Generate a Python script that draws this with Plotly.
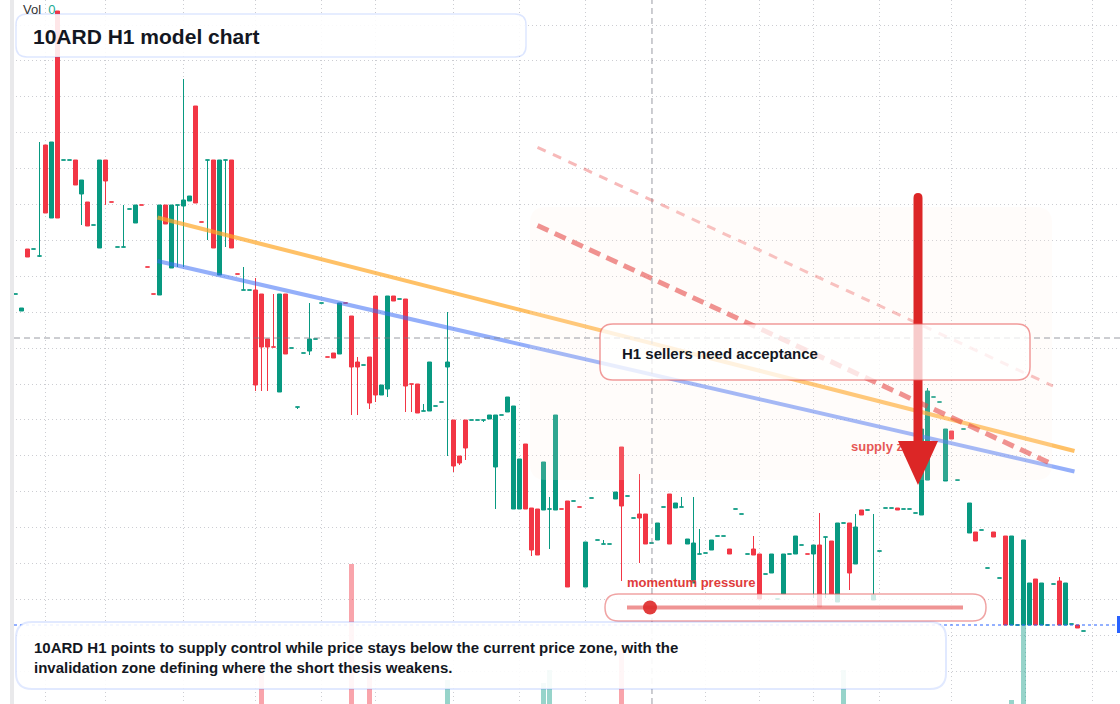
import plotly.graph_objects as go

# ---------------- data ----------------
opens = [41.0, 39.3, 45.5, 45.5, 44.8, 55.9, 48.6, 69.3, 54.4, 54.4,
         54.4, 51.0, 50.2, 47.9, 45.6, 54.4, 50.2, 45.7, 45.7, 49.5,
         48.1, 49.9, 43.7, 41.0, 40.9, 49.9, 43.6, 49.9, 49.8, 50.3,
         59.8, 48.2, 54.4, 54.4, 42.9, 54.4, 54.4, 43.0, 41.4, 41.4,
         41.4, 41.0, 36.5, 35.7, 31.2, 41.0, 35.6, 29.7, 35.1, 35.3,
         36.5, 40.1, 34.7, 35.1, 35.0, 40.1, 38.8, 34.2, 33.9, 34.7,
         40.8, 30.9, 31.5, 40.8, 40.5, 40.5, 32.0, 32.0, 29.3, 29.3,
         29.8, 30.2, 33.7, 28.4, 24.8, 28.4, 28.4, 28.4, 28.4, 28.5,
         23.7, 28.9, 29.2, 19.5, 19.5, 26.0, 19.6, 19.5, 19.4, 19.5,
         19.4, 19.5, 20.3, 20.3, 19.7, 11.7, 20.6, 16.4, 16.0, 16.0,
         20.5, 25.7, 20.8, 18.6, 19.0, 19.0, 16.1, 16.4, 19.7, 21.0,
         19.6, 19.7, 16.0, 12.1, 15.0, 15.1, 15.4, 16.8, 16.8, 15.5,
         19.5, 19.0, 15.0, 15.5, 15.0, 13.0, 13.1, 10.5, 11.0, 15.0,
         15.0, 15.9, 15.0, 15.0, 15.9, 16.7, 16.3, 10.2, 18.1, 18.1,
         14.0, 19.4, 19.4, 10.4, 15.3, 19.6, 19.6, 19.6, 19.5, 19.5,
         19.1, 18.9, 22.4, 30.7, 30.2, 22.3, 27.3, 22.4, 27.5, 17.1,
         17.2, 17.4, 13.6, 17.2, 12.6, 16.8, 7.9, 7.9, 7.9, 7.9,
         12.5, 7.9, 7.9, 12.0, 12.3, 7.9, 8.0, 7.9, 7.3]
highs = [41.0, 39.6, 45.5, 45.5, 56.2, 55.9, 56.2, 69.3, 54.4, 54.4,
         54.4, 52.4, 50.2, 47.9, 54.4, 54.4, 50.2, 45.7, 49.9, 49.5,
         49.9, 49.9, 43.7, 41.0, 49.9, 49.9, 49.9, 49.9, 62.5, 50.8,
         59.8, 48.2, 54.4, 54.4, 54.4, 54.4, 54.4, 43.0, 43.7, 41.4,
         42.6, 41.0, 36.5, 41.0, 41.0, 41.0, 35.6, 29.7, 35.1, 40.1,
         36.5, 40.1, 34.7, 35.1, 40.1, 40.1, 38.8, 34.7, 33.9, 34.7,
         40.8, 31.9, 40.8, 40.8, 40.5, 40.5, 32.0, 32.0, 30.0, 34.2,
         29.8, 30.2, 39.2, 28.4, 24.8, 28.4, 28.4, 28.4, 28.4, 28.9,
         28.9, 28.9, 30.7, 29.8, 24.5, 26.0, 19.6, 19.5, 24.2, 20.7,
         28.9, 19.5, 20.3, 20.3, 19.7, 16.2, 20.6, 16.4, 16.4, 16.0,
         21.2, 25.7, 20.8, 18.6, 23.0, 19.0, 16.1, 18.1, 19.7, 21.0,
         20.1, 20.7, 16.5, 20.7, 17.5, 15.1, 16.4, 16.8, 16.8, 15.5,
         19.5, 19.0, 15.0, 16.8, 15.0, 13.0, 15.0, 10.5, 15.0, 15.0,
         16.8, 15.9, 15.0, 15.9, 19.1, 16.7, 16.3, 18.1, 18.1, 18.1,
         19.0, 19.4, 19.4, 19.0, 15.3, 19.6, 19.6, 19.6, 19.5, 19.5,
         19.1, 27.5, 31.6, 30.7, 30.2, 27.5, 27.3, 22.4, 27.5, 20.1,
         17.2, 17.4, 13.6, 17.2, 12.6, 16.8, 16.8, 7.9, 16.4, 12.1,
         12.5, 12.1, 7.9, 12.0, 12.7, 12.1, 8.0, 7.9, 7.3]
lows = [41.0, 39.3, 44.7, 45.5, 44.7, 49.1, 48.6, 48.6, 54.4, 54.4,
        51.9, 47.9, 47.8, 47.9, 45.6, 49.9, 50.2, 45.7, 45.7, 49.5,
        48.1, 49.9, 43.7, 41.0, 40.9, 48.0, 43.6, 43.7, 43.7, 50.3,
        50.1, 48.2, 46.4, 45.6, 42.9, 45.7, 45.6, 43.0, 41.4, 41.4,
        31.3, 31.3, 31.3, 35.7, 31.2, 35.0, 35.6, 29.5, 35.1, 34.9,
        36.5, 40.1, 34.7, 34.6, 35.0, 40.1, 28.9, 28.9, 33.9, 29.5,
        30.2, 30.9, 30.7, 40.3, 40.5, 29.2, 29.2, 29.1, 29.3, 29.3,
        29.8, 30.2, 24.8, 23.2, 23.9, 24.4, 28.4, 28.4, 28.2, 28.5,
        19.5, 28.9, 29.2, 19.5, 19.5, 19.5, 14.8, 14.9, 19.4, 15.5,
        19.4, 19.5, 11.7, 20.3, 19.7, 11.7, 20.6, 16.4, 16.0, 16.0,
        20.5, 12.3, 20.8, 18.6, 14.1, 16.0, 16.1, 16.4, 19.7, 16.0,
        19.6, 19.7, 16.0, 12.1, 15.0, 15.1, 15.4, 16.8, 16.8, 15.0,
        19.5, 19.0, 15.0, 14.9, 10.5, 13.0, 13.1, 10.5, 11.0, 15.0,
        15.0, 15.9, 15.0, 10.6, 9.7, 10.6, 11.0, 10.2, 18.1, 11.4,
        14.0, 18.9, 19.4, 10.4, 15.3, 19.6, 19.6, 19.4, 19.5, 19.5,
        19.1, 18.9, 22.4, 30.7, 30.2, 22.3, 26.5, 22.4, 27.5, 17.1,
        16.3, 17.4, 13.6, 16.7, 12.6, 7.9, 7.9, 7.9, 7.9, 7.9,
        7.9, 7.9, 7.9, 12.0, 7.9, 7.9, 8.0, 7.6, 7.3]
closes = [41.0, 39.6, 44.7, 45.5, 44.8, 49.1, 56.2, 48.6, 54.4, 54.4,
          51.9, 52.4, 47.8, 47.9, 54.4, 52.3, 50.2, 45.7, 45.7, 49.5,
          49.9, 49.9, 43.7, 41.0, 49.9, 48.0, 49.9, 49.9, 50.4, 50.8,
          50.1, 48.2, 54.4, 45.6, 54.4, 54.4, 45.6, 43.0, 41.4, 41.4,
          31.9, 35.7, 35.7, 35.7, 41.0, 35.0, 35.6, 29.7, 35.1, 36.5,
          36.5, 40.1, 34.7, 34.6, 40.1, 40.1, 33.7, 33.7, 33.9, 30.1,
          30.9, 31.9, 40.8, 40.3, 40.5, 31.8, 32.0, 29.1, 29.3, 34.2,
          29.8, 30.2, 34.2, 23.8, 24.1, 25.6, 28.4, 28.4, 28.4, 28.9,
          28.9, 28.9, 30.7, 29.8, 24.5, 19.5, 15.4, 14.9, 24.2, 19.5,
          28.9, 19.5, 11.7, 20.3, 19.7, 16.2, 20.6, 16.4, 16.0, 16.0,
          21.2, 19.8, 20.8, 18.6, 18.6, 16.0, 16.1, 18.1, 19.7, 16.0,
          20.1, 19.7, 16.5, 16.1, 15.0, 15.1, 16.4, 16.8, 16.8, 15.0,
          19.5, 19.0, 15.0, 14.9, 10.5, 13.0, 15.0, 10.5, 15.0, 15.0,
          16.8, 15.9, 15.0, 15.9, 9.7, 16.7, 11.0, 18.1, 18.1, 13.1,
          17.7, 18.9, 19.4, 10.9, 15.3, 19.6, 19.6, 19.4, 19.5, 19.5,
          19.1, 27.5, 31.3, 30.7, 30.2, 27.5, 26.5, 22.4, 27.5, 20.1,
          16.3, 17.4, 13.6, 16.7, 12.6, 7.9, 16.8, 7.9, 16.4, 12.1,
          7.9, 12.1, 7.9, 12.0, 7.9, 12.1, 8.0, 7.6, 7.3]
# candle colour: g = buyers (teal), r = sellers (red)
sides = ("ggrggrgrgg" "rgrggrrggg" "grrrgrgggg" "rrgrggrrgg" "rrrrgrgggg"
         "ggrrgrrrgr" "rggrgrrrgg" "gggrrrgggg" "gggggrrrgg" "grrgrggggg"
         "grggrrgggr" "gggggggggr" "gggrrggggg" "ggrgrgrggr" "grgggggrgg"
         "ggggggrggg" "rggrgrgggg" "rgggrggrg")

vol_idx = [41, 56, 59, 72, 88, 89, 101, 138, 166, 168]
vol_val = [4400, 14000, 4400, 2400, 2100, 3400, 5400, 3400, 400, 10400]

# trend lines: (bar index, price)
upper_x, upper_y = [23.67, 176.5], [48.65, 25.3]      # orange
lower_x, lower_y = [23.67, 176.5], [44.3, 23.25]      # blue
short_x, short_y = [87.0, 172.9], [47.85, 23.95]      # red dashed
outer_x, outer_y = [87.0, 172.9], [55.67, 31.8]       # light red dashed

grid_x = [4.92, 15.08, 27.92, 39.92, 51.08, 60.08, 72.92, 83.92, 95.08,
          115.08, 123.92, 132.92, 143.92, 155.92, 168.25, 179.58]
cross_idx, cross_price = 106.08, 36.6
last_price = 7.9

assert len(opens) == len(highs) == len(lows) == len(closes) == len(sides) == 179

# ---------------- style ----------------
W, H = 1120, 704
GREEN = "#089981"
RED = "#f23645"
INK = "#131722"
FONT = "Liberation Sans, Arial, sans-serif"
GRID = "rgba(170,172,180,0.6)"
X0, X1 = -2.583, 184.083
Y0, Y1 = 0.0, 70.4


def X(px):  # pixel -> bar index
    return X0 + px / W * (X1 - X0)


def Y(py):  # pixel -> price
    return Y1 - py / H * (Y1 - Y0)


def PX(px):
    return px / W


def PY(py):
    return 1 - py / H


def rrect(x0, y0, x1, y1, r, fx, fy):
    p = [f"M{fx(x0 + r)},{fy(y0)}", f"L{fx(x1 - r)},{fy(y0)}",
         f"Q{fx(x1)},{fy(y0)} {fx(x1)},{fy(y0 + r)}", f"L{fx(x1)},{fy(y1 - r)}",
         f"Q{fx(x1)},{fy(y1)} {fx(x1 - r)},{fy(y1)}", f"L{fx(x0 + r)},{fy(y1)}",
         f"Q{fx(x0)},{fy(y1)} {fx(x0)},{fy(y1 - r)}", f"L{fx(x0)},{fy(y0 + r)}",
         f"Q{fx(x0)},{fy(y0)} {fx(x0 + r)},{fy(y0)}", "Z"]
    return " ".join(p)


idx = list(range(len(opens)))
fig = go.Figure()

# volume (main y axis, drawn underneath)
vol_colors = ["rgba(242,54,69,0.45)" if sides[i] == "r" else "rgba(8,153,129,0.42)" for i in vol_idx]
fig.add_trace(go.Bar(x=vol_idx, y=vol_val, width=0.8, marker=dict(color=vol_colors, line=dict(width=0)),
                     hoverinfo="skip", showlegend=False, yaxis="y"))

for side, col in (("g", GREEN), ("r", RED)):
    sel = [s == side for s in sides]
    fig.add_trace(go.Candlestick(
        x=idx,
        open=[v if k else None for v, k in zip(opens, sel)],
        high=[v if k else None for v, k in zip(highs, sel)],
        low=[v if k else None for v, k in zip(lows, sel)],
        close=[v if k else None for v, k in zip(closes, sel)],
        increasing=dict(line=dict(color=col, width=1), fillcolor=col),
        decreasing=dict(line=dict(color=col, width=1), fillcolor=col),
        whiskerwidth=0, hoverinfo="none", showlegend=False, yaxis="y2"))

fig.add_trace(go.Scatter(x=upper_x, y=upper_y, mode="lines", yaxis="y2", hoverinfo="skip", showlegend=False,
                         line=dict(color="rgba(255,167,38,0.7)", width=4)))
fig.add_trace(go.Scatter(x=lower_x, y=lower_y, mode="lines", yaxis="y2", hoverinfo="skip", showlegend=False,
                         line=dict(color="rgba(60,110,245,0.55)", width=4)))
fig.add_trace(go.Scatter(x=short_x, y=short_y, mode="lines", yaxis="y2", hoverinfo="skip", showlegend=False,
                         line=dict(color="rgba(225,45,45,0.6)", width=5, dash="12px,7px")))
fig.add_trace(go.Scatter(x=outer_x, y=outer_y, mode="lines", yaxis="y2", hoverinfo="skip", showlegend=False,
                         line=dict(color="rgba(235,80,80,0.4)", width=3, dash="9px,8px")))
fig.add_trace(go.Scatter(x=[X(851)], y=[Y(448)], mode="text", yaxis="y2", hoverinfo="skip", showlegend=False,
                         text=["<b>supply zone</b>"], textposition="middle right",
                         textfont=dict(family=FONT, size=13, color="#e23b3b")))

shapes = []
# supply zone
shapes.append(dict(type="path", xref="x", yref="y2", layer="above", line=dict(width=0),
                   fillcolor="rgba(255,237,224,0.16)", path=rrect(530, 207, 1052, 480, 16, X, Y)))
# crosshair
shapes.append(dict(type="line", xref="paper", yref="y2", x0=PX(14), x1=1, y0=cross_price, y1=cross_price,
                   layer="above", line=dict(color="rgba(120,123,134,0.75)", width=1, dash="6px,4px")))
shapes.append(dict(type="line", xref="x", yref="paper", x0=cross_idx, x1=cross_idx, y0=0, y1=1,
                   layer="above", line=dict(color="rgba(120,123,134,0.75)", width=1, dash="6px,4px")))
# last price line
shapes.append(dict(type="line", xref="paper", yref="y2", x0=PX(14), x1=1, y0=last_price, y1=last_price,
                   layer="above", line=dict(color="#2962ff", width=1, dash="dot")))
# big arrow
ax = 918
shaft = (f"M{X(ax-4.5)},{Y(441)} L{X(ax-4.5)},{Y(198)} Q{X(ax-4.5)},{Y(193)} {X(ax)},{Y(193)} "
         f"Q{X(ax+4.5)},{Y(193)} {X(ax+4.5)},{Y(198)} L{X(ax+4.5)},{Y(441)} Z")
shapes.append(dict(type="path", xref="x", yref="y2", layer="above", path=shaft,
                   fillcolor="#dc2626", line=dict(width=0)))
shapes.append(dict(type="path", xref="x", yref="y2", layer="above",
                   path=f"M{X(ax-20)},{Y(441)} L{X(ax+20)},{Y(441)} L{X(ax)},{Y(485)} Z",
                   fillcolor="#dc2626", line=dict(width=0)))
# callout box
shapes.append(dict(type="path", xref="paper", yref="paper", layer="above",
                   path=rrect(600, 324, 1030, 380, 13, PX, PY),
                   fillcolor="rgba(255,255,255,0.76)", line=dict(color="rgba(232,90,90,0.6)", width=1.5)))
# title box
shapes.append(dict(type="path", xref="paper", yref="paper", layer="above",
                   path=rrect(16, 14, 526, 57, 11, PX, PY),
                   fillcolor="rgba(255,255,255,0.88)", line=dict(color="rgba(41,98,255,0.16)", width=1.5)))
# momentum pill
shapes.append(dict(type="path", xref="paper", yref="paper", layer="above",
                   path=rrect(605, 594, 986, 621, 13.5, PX, PY),
                   fillcolor="rgba(255,255,255,0.8)", line=dict(color="rgba(228,90,90,0.55)", width=1.5)))
shapes.append(dict(type="line", xref="paper", yref="paper", layer="above", x0=PX(627), x1=PX(963),
                   y0=PY(607.5), y1=PY(607.5), line=dict(color="rgba(225,60,60,0.55)", width=4)))
shapes.append(dict(type="circle", xref="paper", yref="paper", layer="above", x0=PX(643), x1=PX(657),
                   y0=PY(600.5), y1=PY(614.5), fillcolor="rgba(222,40,40,0.9)", line=dict(width=0)))
# narrative box
shapes.append(dict(type="path", xref="paper", yref="paper", layer="above",
                   path=rrect(16, 622, 946, 689, 16, PX, PY),
                   fillcolor="rgba(255,255,255,0.9)", line=dict(color="rgba(41,98,255,0.14)", width=2)))
# left scale strip
shapes.append(dict(type="rect", xref="paper", yref="paper", layer="above", x0=0, x1=PX(10), y0=0, y1=1,
                   fillcolor="white", line=dict(width=0)))
shapes.append(dict(type="rect", xref="paper", yref="paper", layer="above", x0=PX(10), x1=PX(14), y0=0, y1=1,
                   fillcolor="#e9e9eb", line=dict(width=0)))
# last price tag (cut by the edge)
shapes.append(dict(type="rect", xref="paper", yref="paper", layer="above", x0=PX(1117), x1=1,
                   y0=PY(633), y1=PY(616), fillcolor="#2962ff", line=dict(width=0)))

annotations = [
    dict(text="<b>10ARD H1 model chart</b>", x=PX(31), y=PY(36), xref="paper", yref="paper",
         xanchor="left", yanchor="middle", showarrow=False, font=dict(family=FONT, size=21, color=INK)),
    dict(text="Vol\u00a0\u00a0<span style='color:#22ab94'>0</span>", x=PX(21), y=PY(9), xref="paper", yref="paper",
         xanchor="left", yanchor="middle", showarrow=False, font=dict(family=FONT, size=13, color="#333333")),
    dict(text="<b>H1 sellers need acceptance</b>", x=PX(620), y=PY(353), xref="paper", yref="paper",
         xanchor="left", yanchor="middle", showarrow=False, font=dict(family=FONT, size=15, color=INK)),
    dict(text="<b>momentum pressure</b>", x=PX(625), y=PY(582), xref="paper", yref="paper",
         xanchor="left", yanchor="middle", showarrow=False, font=dict(family=FONT, size=13, color="#e03c3c")),
    dict(text="<b>10ARD H1 points to supply control while price stays below the current price zone, with the<br>"
              "invalidation zone defining where the short thesis weakens.</b>",
         x=PX(32), y=PY(657), xref="paper", yref="paper", xanchor="left", yanchor="middle", align="left",
         showarrow=False, font=dict(family=FONT, size=15, color=INK)),
]

fig.update_layout(
    width=W, height=H, margin=dict(l=0, r=0, t=0, b=0, pad=0),
    paper_bgcolor="white", plot_bgcolor="white", showlegend=False,
    boxgap=0.333, boxgroupgap=0, bargap=0,
    xaxis=dict(range=[X0, X1], tickmode="array", tickvals=grid_x, showticklabels=False, ticks="",
               showgrid=True, gridcolor=GRID, griddash="1px,3px", gridwidth=1,
               zeroline=False, showline=False, rangeslider=dict(visible=False), fixedrange=True),
    yaxis=dict(range=[0, 70400], showgrid=False, showticklabels=False, ticks="", zeroline=False,
               showline=False, fixedrange=True),
    yaxis2=dict(range=[Y0, Y1], overlaying="y", side="left", tick0=67.9, dtick=3.59, showticklabels=False,
                ticks="", showgrid=True, gridcolor=GRID, griddash="1px,3px", gridwidth=1,
                zeroline=False, showline=False, fixedrange=True),
    shapes=shapes, annotations=annotations, hovermode=False,
)

fig.write_html("out.html", config={"displayModeBar": False})
